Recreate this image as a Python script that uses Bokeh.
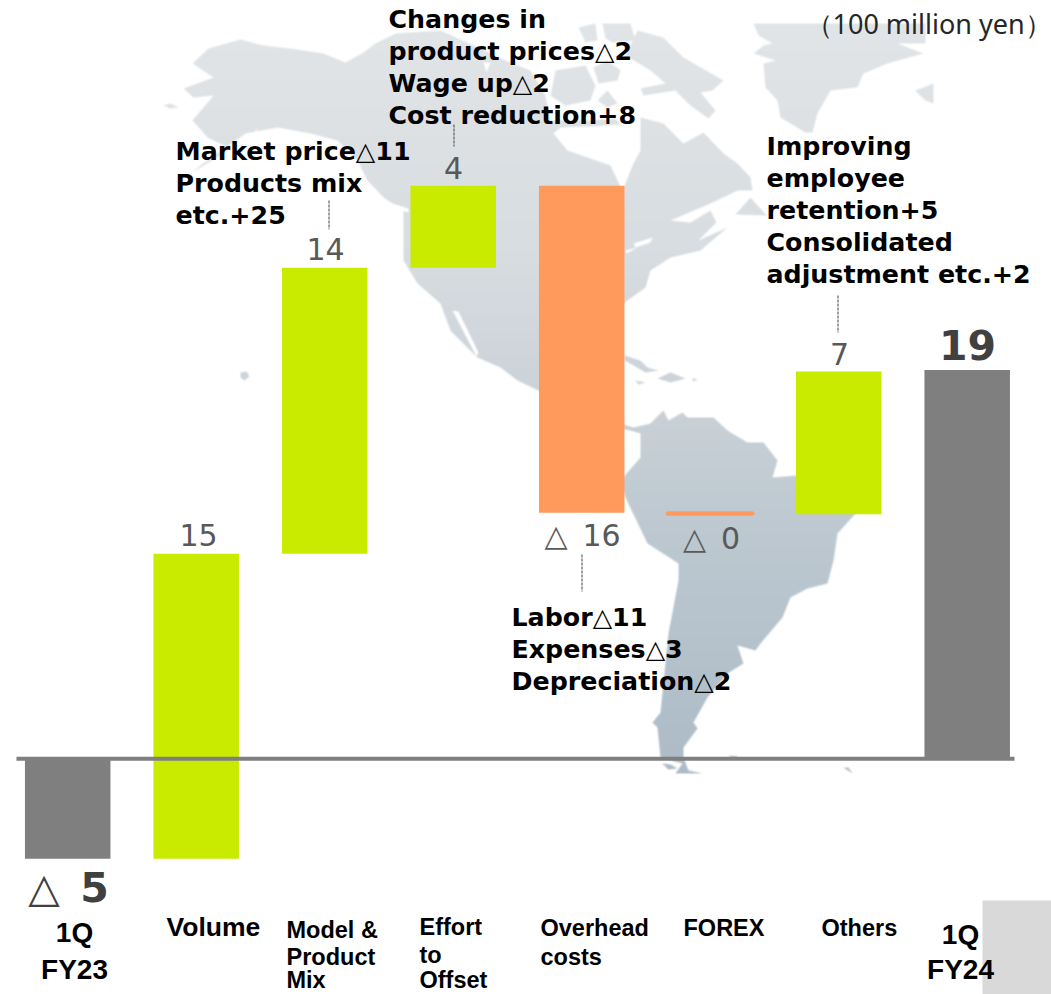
import numpy as np
from bokeh.plotting import figure
from bokeh.models import Range1d
from bokeh.core.properties import value
from bokeh.embed import file_html
from bokeh.resources import INLINE

# ---- chart data -------------------------------------------------------
start_value = -4.9
step_names = ["Volume", "Model & Product Mix", "Effort to Offset", "Overhead costs", "FOREX", "Others"]
step_values = [14.95, 14.02, 4.02, -16.03, -0.08, 7.0]
end_value = 19.05
step_labels = ["15", "14", "4", "\u25b3\u200216", "\u25b3\u20020", "7"]
start_label = "\u25b3\u20025"
end_label = "19"
unit_label = "\uff08100 million yen\uff09"

W, H = 1051, 994
ZERO, SCALE = 758.2, 20.4  # page-pixel of 0 and pixels per unit
X0, DX = 67.2, 128.5       # page-pixel of first bar, spacing


def X(px):
    return (np.asarray(px, float) - X0) / DX


def Y(py):
    return (ZERO - np.asarray(py, float)) / SCALE


p = figure(width=W, height=H, output_backend="svg", toolbar_location=None,
           x_range=Range1d(float(X(0)), float(X(W))),
           y_range=Range1d(float(Y(H)), float(Y(0))),
           min_border=0, outline_line_color=None, background_fill_color="white",
           border_fill_color="white")
p.axis.visible = False
p.grid.visible = False

# ---- background map (decoration, traced in page pixels) ----------------
LAND = [
    [(192,63),(208,48),(240,39),(263,45),(290,48),(323,53),(345,62),(363,52),(375,43),(395,33),(440,30),(480,48),
     (505,60),(530,70),(545,95),(550,120),(590,120),(615,118),(620,124),(590,126),(560,127),(553,133),(567,150),
     (590,158),(610,165),(617,180),(622,190),(633,163),(640,150),(640,130),(640,117),(663,123),(683,143),(703,132),
     (723,153),(737,163),(750,177),(752,190),(737,190),(710,203),(670,220),(690,222),(710,210),(716,222),(698,240),
     (727,227),(700,250),(670,257),(650,270),(645,287),(627,300),(600,320),(600,390),(538,390),(517,380),(500,367),
     (477,357),(467,347),(450,330),(440,303),(417,283),(403,260),(403,210),(383,197),(367,180),(357,160),(337,140),
     (310,133),(277,127),(245,133),(200,165),(192,172),(230,148),(207,137),(192,120),(213,95),(193,97),(183,88),(213,77)],
    [(620,423),(633,427),(650,423),(663,410),(668,420),(682,412),(687,417),(713,417),(727,430),(747,442),(763,442),
     (777,460),(772,477),(797,475),(855,513),(837,533),(833,560),(827,583),(807,588),(790,597),(782,617),(760,643),
     (755,650),(737,645),(743,663),(727,673),(707,697),(693,722),(697,728),(683,747),(683,757),(688,770),(702,773),
     (675,773),(682,763),(660,757),(657,727),(652,722),(660,712),(668,633),(678,580),(678,563),(647,543),(625,497),
     (620,480),(640,457),(640,433),(630,430),(620,428)],
    [(753,23),(925,23),(925,43),(897,43),(923,53),(887,63),(863,73),(857,87),(830,90),(817,113),(812,132),(805,132),
     (780,117),(777,100),(765,87),(763,63),(775,60),(753,53),(763,45),(772,43),(758,35)],
    [(637,30),(663,37),(683,57),(723,80),(712,90),(700,92),(715,110),(708,118),(690,105),(675,90),(643,95),(640,88),(665,83),(650,70),(625,55)],
    [(578,27),(595,23),(597,40),(585,42)],
    [(602,23),(630,23),(635,40),(612,42),(605,38)],
    [(555,70),(585,65),(595,85),(590,100),(565,105),(550,95)],
    [(593,67),(607,60),(620,70),(617,80),(598,83)],
    [(597,100),(607,90),(617,103),(607,107)],
    [(915,90),(933,83),(933,103),(925,100)],
    [(735,214),(750,197),(766,215)],
    [(163,105),(170,103),(178,107),(170,108)],
    [(240,372),(246,371),(249,376),(244,380),(240,377)],
    [(624,355),(640,360),(647,367),(658,370),(645,372),(633,365),(624,360)],
    [(657,378),(670,372),(685,378),(670,382)],
    [(635,380),(645,382),(638,384)],
    [(692,378),(698,379),(692,381)],
    [(662,763),(670,764),(677,768),(668,769)],
    [(728,755),(738,756),(733,759)],
    [(843,767),(848,767),(852,773)],
]
HOLES = [
    [(250,137),(258,126),(253,137)],
    [(452,310),(458,311),(478,352),(476,356)],
    [(633,243),(652,237),(650,242),(635,247)],
    [(625,250),(637,247),(626,253)],
    [(483,62),(490,62),(486,72)],
    [(378,196),(392,203),(408,208),(408,212),(390,206)],
]
GRAD_Y = [22, 250, 400, 520, 780]
GRAD_R = [226, 216, 203, 190, 172]
GRAD_G = [229, 221, 210, 201, 187]
GRAD_B = [231, 225, 216, 209, 199]


def raster(polys, x0, y0, w, h, ss=3):
    out = np.zeros((h * ss, w * ss), bool)
    xs = x0 + (np.arange(w * ss) + 0.5) / ss
    for poly in polys:
        a = np.array(poly, float)
        b = np.roll(a, -1, axis=0)
        for r in range(h * ss):
            yy = y0 + (r + 0.5) / ss
            hit = (a[:, 1] <= yy) != (b[:, 1] <= yy)
            if not hit.any():
                continue
            cross = a[hit, 0] + (yy - a[hit, 1]) / (b[hit, 1] - a[hit, 1]) * (b[hit, 0] - a[hit, 0])
            cross.sort()
            for c0, c1 in zip(cross[::2], cross[1::2]):
                out[r, (xs >= c0) & (xs < c1)] = True
    return out


MX, MY, MW, MH = 150, 20, 800, 770
mask = raster(LAND, MX, MY, MW, MH) & ~raster(HOLES, MX, MY, MW, MH)
cov = mask.reshape(MH, 3, MW, 3).mean(axis=(1, 3))
# soften the traced edge slightly, as in the reference's picture
cov = (cov + np.roll(cov, 1, 0) + np.roll(cov, -1, 0) + np.roll(cov, 1, 1) + np.roll(cov, -1, 1)) / 5
rows = MY + np.arange(MH) + 0.5
rgba = np.zeros((MH, MW, 4), np.uint8)
rgba[..., 0] = np.interp(rows, GRAD_Y, GRAD_R)[:, None]
rgba[..., 1] = np.interp(rows, GRAD_Y, GRAD_G)[:, None]
rgba[..., 2] = np.interp(rows, GRAD_Y, GRAD_B)[:, None]
rgba[..., 3] = (cov * 255).astype(np.uint8)
view = np.zeros((MH, MW), dtype=np.uint32)
view.flat = rgba[::-1].reshape(-1, 4).view(np.uint32).ravel()
p.image_rgba(image=[view], x=float(X(MX)), y=float(Y(MY + MH)),
             dw=MW / DX, dh=MH / SCALE)

# grey box bottom right
p.quad(left=float(X(982)), right=float(X(1060)), top=float(Y(900)), bottom=float(Y(1000)),
       fill_color="#d9d9d9", line_color=None)

# ---- waterfall ---------------------------------------------------------
GREEN, ORANGE, GREY = "#c8eb00", "#ff9a5c", "#7f7f7f"
levels = np.concatenate([[start_value], start_value + np.cumsum(step_values)])
xs_step = np.arange(1, len(step_values) + 1)
tops = np.maximum(levels[:-1], levels[1:])
bots = np.minimum(levels[:-1], levels[1:])
cols = [GREEN if v > 0 else ORANGE for v in step_values]
BW = 85.5 / DX
p.vbar(x=[0, len(step_values) + 1], width=BW, bottom=[start_value, 0], top=[0, end_value],
       fill_color=GREY, line_color=None)
p.vbar(x=xs_step, width=BW, bottom=bots, top=tops, fill_color=cols, line_color=None)
# the FOREX step is a hairline bar: give it thickness and its wider outline
forex = step_names.index("FOREX") + 1
p.vbar(x=[forex], width=BW, bottom=[bots[forex - 1]], top=[tops[forex - 1]],
       fill_color=ORANGE, line_color=ORANGE, line_width=3)
# zero line
p.segment(x0=float(X(16)), x1=float(X(1014)), y0=0, y1=0, line_color=GREY, line_width=4)


# ---- text --------------------------------------------------------------
BASE_FIX = 0.38  # the SVG text sits this share of its size under the asked baseline


def txt(s, px, py, font, size, color="#000000", bold=False, align="left"):
    p.text(x=[float(X(px))], y=[float(Y(py - BASE_FIX * size))], text=[s], text_font=value(font),
           text_font_size=f"{size}px", text_color=color,
           text_font_style="bold" if bold else "normal",
           text_align=align, text_baseline="alphabetic")


def lead(px, y0, y1):
    p.segment(x0=float(X(px)), x1=float(X(px)), y0=float(Y(y0)), y1=float(Y(y1)),
              line_color="#404040", line_width=1, line_dash="3 1")


VAL = "#595959"
txt(step_labels[0], 198, 546, "DejaVu Sans", 30, VAL, align="center")
txt(step_labels[1], 325, 260, "DejaVu Sans", 30, VAL, align="center")
txt(step_labels[2], 453, 179, "DejaVu Sans", 30, VAL, align="center")
txt(step_labels[3], 582, 546, "DejaVu Sans", 30, VAL, align="center")
txt(step_labels[4], 711, 549, "DejaVu Sans", 30, VAL, align="center")
txt(step_labels[5], 839, 365, "DejaVu Sans", 30, VAL, align="center")
txt(end_label, 967, 360, "DejaVu Sans", 41, "#404040", True, align="center")
txt(start_label, 68, 903, "DejaVu Sans", 41, "#404040", True, align="center")

txt(unit_label, 805, 33, "Noto Sans", 27, "#262626")

NOTE = 25.3
for line, by in zip(["Market price\u25b311", "Products mix", "etc.+25"], [161, 193, 225]):
    txt(line, 175, by, "DejaVu Sans", NOTE, bold=True)
for line, by in zip(["Changes in", "product prices\u25b32", "Wage up\u25b32", "Cost reduction+8"], [29, 61, 93, 125]):
    txt(line, 388, by, "DejaVu Sans", NOTE, bold=True)
for line, by in zip(["Improving", "employee", "retention+5", "Consolidated", "adjustment etc.+2"], [156, 188, 220, 252, 284]):
    txt(line, 766, by, "DejaVu Sans", NOTE, bold=True)
for line, by in zip(["Labor\u25b311", "Expenses\u25b33", "Depreciation\u25b32"], [627, 659, 691]):
    txt(line, 511, by, "DejaVu Sans", NOTE, bold=True)

lead(328.5, 200, 229)
lead(453.5, 124, 146)
lead(837.5, 295, 332)
lead(581.5, 554, 591)

CAT = "Liberation Sans"
txt("1Q", 74, 943, CAT, 28, bold=True, align="center")
txt("FY23", 74, 980, CAT, 28, bold=True, align="center")
txt("Volume", 166, 937, CAT, 26.5, bold=True)
for line, by in zip(["Model &", "Product", "Mix"], [938, 965, 988]):
    txt(line, 286, by, CAT, 23.5, bold=True)
for line, by in zip(["Effort", "to", "Offset"], [935, 963, 988]):
    txt(line, 419, by, CAT, 23.5, bold=True)
for line, by in zip(["Overhead", "costs"], [936, 965]):
    txt(line, 540, by, CAT, 23.5, bold=True)
txt("FOREX", 683, 936, CAT, 23.5, bold=True)
txt("Others", 821, 936, CAT, 23.5, bold=True)
txt("1Q", 960, 945, CAT, 28, bold=True, align="center")
txt("FY24", 960, 980, CAT, 28, bold=True, align="center")

open("out.html", "w").write(file_html(p, INLINE))
